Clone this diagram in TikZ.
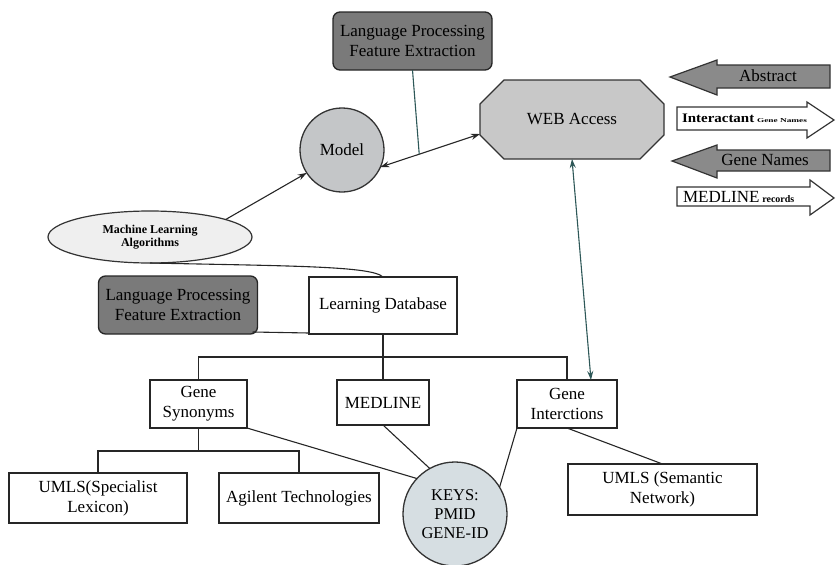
\documentclass[tikz,border=0pt]{standalone}
\usepackage{fontspec}
\setmainfont{Liberation Serif}
\usepackage{graphicx}
\usetikzlibrary{arrows.meta,shapes.geometric,calc}

\definecolor{darkbox}{HTML}{7A7A7A}
\definecolor{modelgray}{HTML}{C4C6C8}
\definecolor{webgray}{HTML}{C8C8C8}
\definecolor{ellfill}{HTML}{EFEFEF}
\definecolor{keysfill}{HTML}{D6DEE2}
\definecolor{arrowdark}{HTML}{8A8A8A}
\definecolor{tealline}{HTML}{2E5858}

\begin{document}
\begin{tikzpicture}[x=1pt,y=-1pt,
  every node/.style={inner sep=0pt, outer sep=0pt},
  txt/.style={font=\fontsize{17}{20}\selectfont, align=center},
  lpbox/.style={txt, draw=black!85, line width=1.3pt, fill=darkbox,
    rounded corners=7pt, minimum width=159pt, minimum height=58pt},
  plainbox/.style={txt, draw=black!85, line width=1.4pt, fill=white},
  conn/.style={draw=black!85, line width=1.1pt},
  tconn/.style={draw=tealline, line width=1.1pt},
  tip/.style={-{Stealth[length=9pt,width=6pt]}},
  dtip/.style={{Stealth[length=9pt,width=6pt]}-{Stealth[length=9pt,width=6pt]}},
  blockarrow/.style={draw=black!80, line width=1.2pt}]

\useasboundingbox (0,0) rectangle (836,565);

% ---------- upper part ----------
\node[lpbox] (lp1) at (412.5,41) {Language Processing\\Feature Extraction};

\node[txt, circle, draw=black!80, line width=1.3pt, fill=modelgray,
  minimum size=84pt] (model) at (342,150) {Model};

% WEB Access octagon
\path node[minimum width=184pt, minimum height=79pt] (web) at (572,119.5) {};
\filldraw[fill=webgray, draw=black!80, line width=1.3pt]
  ($(web.north west)+(24,0)$) -- ($(web.north east)+(-24,0)$)
  -- ($(web.north east)+(0,24)$) -- ($(web.south east)+(0,-24)$)
  -- ($(web.south east)+(-24,0)$) -- ($(web.south west)+(24,0)$)
  -- ($(web.south west)+(0,-24)$) -- ($(web.north west)+(0,24)$) -- cycle;
\node[txt] at (web.center) {WEB Access};
\coordinate (wl) at ($(web.south west)+(0,-25)$);

\node[txt, ellipse, draw=black!80, line width=1.2pt, fill=ellfill,
  minimum width=204pt, minimum height=52pt,
  font=\fontsize{12}{13}\selectfont\bfseries] (mla) at (150,237)
  {Machine Learning\\Algorithms};

\node[lpbox] (lp2) at (178,305) {Language Processing\\Feature Extraction};
\node[plainbox, minimum width=148pt, minimum height=57pt] (ldb) at (383,305.5)
  {Learning Database};

% ---------- legend arrows ----------
\filldraw[blockarrow, fill=arrowdark]
  (670,77) -- (717,60) -- (717,65) -- (830,65) -- (830,88) -- (717,88) -- (717,95) -- cycle;
\node[txt] (labs) at (768,76) {Abstract};

\filldraw[blockarrow, fill=white]
  (677,107) -- (807,107) -- (807,102) -- (834,120) -- (807,138) -- (807,130) -- (677,130) -- cycle;
\node[txt, anchor=west] (lint) at (682,118.5)
  {\scalebox{1.15}[1]{\fontsize{13}{14}\selectfont\bfseries Interactant}\,\scalebox{1.55}[1]{\fontsize{6}{7}\selectfont\bfseries Gene Names}};

\filldraw[blockarrow, fill=arrowdark]
  (672,161) -- (717,145) -- (717,150) -- (830,150) -- (830,171) -- (717,171) -- (717,178) -- cycle;
\node[txt] (lgn) at (765,160) {Gene Names};

\filldraw[blockarrow, fill=white]
  (677,187) -- (810,187) -- (810,180) -- (834,198) -- (810,215) -- (810,206) -- (677,206) -- cycle;
\node[txt, anchor=west] (lmed) at (683,196.5)
  {MEDLINE\,{\fontsize{10}{11}\selectfont\bfseries records}};

% ---------- lower part ----------
\node[plainbox, minimum width=97pt, minimum height=48pt] (gs) at (198.5,404) {Gene\\Synonyms};
\node[plainbox, minimum width=92pt, minimum height=45pt] (med) at (383,402.5) {MEDLINE};
\node[plainbox, minimum width=100pt, minimum height=48pt] (gi) at (567,404) {Gene\\Interctions};

\node[plainbox, minimum width=178pt, minimum height=50pt] (umls1) at (98,498) {UMLS(Specialist\\Lexicon)};
\node[plainbox, minimum width=160pt, minimum height=50pt] (agi) at (299,498) {Agilent Technologies};
\node[plainbox, minimum width=189pt, minimum height=51pt] (umls2) at (662.5,489.5) {UMLS (Semantic\\Network)};

\node[txt, circle, draw=black!80, line width=1.3pt, fill=keysfill,
  minimum size=104pt, font=\fontsize{16.5}{19}\selectfont] (keys) at (455,514)
  {KEYS:\\PMID\\GENE-ID};

% ---------- connectors ----------
\draw[conn, dtip] (model.-24) -- (wl);
\coordinate (j) at ($(model.-24)!0.39!(wl)$);
\draw[tconn] (lp1.south) -- (j);

\draw[conn, tip] (mla.13) -- (model.213);
\draw[conn] (mla.south) .. controls (290,266) and (372,266) .. (ldb.north);
\draw[conn] ([xshift=-5pt,yshift=2pt]lp2.south east) -- ([yshift=1pt]ldb.south west);

\draw[tconn, dtip] (web.south) -- ([xshift=24pt]gi.north);

\coordinate (bar1) at (0,357);
\draw[conn] (ldb.south) -- (med.north);
\draw[conn] (gs.north) -- (gs.north |- bar1) -- (gi.north |- bar1) -- (gi.north);

\coordinate (bar2) at (0,451);
\draw[conn] (gs.south) -- (gs.south |- bar2);
\draw[conn] (umls1.north) -- (umls1.north |- bar2) -- (agi.north |- bar2) -- (agi.north);

\draw[conn] (gs.south east) -- (keys.137);
\draw[conn] (med.south) -- (keys.119);
\draw[conn] (gi.south west) -- (keys.31);
\draw[conn] (gi.south) -- (umls2.north);

\end{tikzpicture}
\end{document}
